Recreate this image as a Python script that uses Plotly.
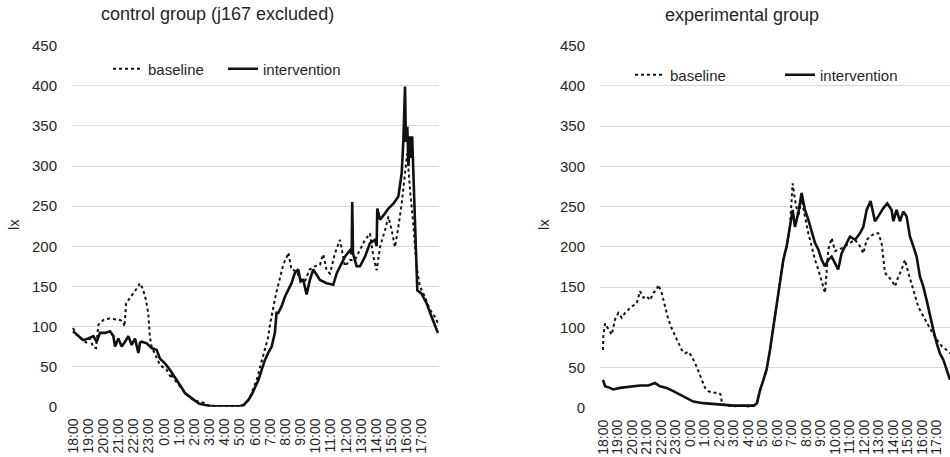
import plotly.graph_objects as go

# hour labels (category axis 18:00 -> 17:00)
hour_labels = ["18:00", "19:00", "20:00", "21:00", "22:00", "23:00", "0:00", "1:00",
               "2:00", "3:00", "4:00", "5:00", "6:00", "7:00", "8:00", "9:00", "10:00",
               "11:00", "12:00", "13:00", "14:00", "15:00", "16:00", "17:00"]
y_ticks = [0, 50, 100, 150, 200, 250, 300, 350, 400, 450]

# ---- control group (hours after 18:00, lx) ----
ctrl_base_t = [0.0, 0.23, 0.56, 0.88, 1.12, 1.34, 1.52, 1.67, 2.0, 2.4, 2.75, 3.1, 3.3, 3.4, 3.5,
               3.75, 4.08, 4.3, 4.42, 4.62, 4.81, 4.96, 5.07, 5.18, 5.5, 5.73, 6.17, 6.5, 6.55,
               6.72, 7.16, 7.49, 7.93, 8.2, 8.6, 9.0, 9.5, 10.0, 10.5, 11.0, 11.3, 11.67, 12.1,
               12.4, 12.65, 12.87, 13.0, 13.2, 13.4, 13.64, 13.86, 14.1, 14.2, 14.4, 14.74,
               14.95, 15.28, 15.6, 15.94, 16.28, 16.5, 16.72, 16.94, 17.27, 17.6, 17.93, 18.26,
               18.59, 18.92, 19.25, 19.58, 19.8, 20.02, 20.24, 20.57, 20.79, 21.01, 21.23,
               21.45, 21.67, 21.89, 22.04, 22.22, 22.43, 22.65, 22.87, 23.2, 23.53, 23.86, 24.06]
ctrl_base_v = [98, 90, 84, 80, 85, 74, 73, 102, 108, 110, 109, 108, 106, 100, 129,
               135, 144, 150, 154, 146, 133, 117, 87, 75, 62, 52, 46, 35, 42,
               33, 23, 15, 8, 7, 5, 1, 0.5, 0.3, 0.5, 0.5, 2, 12, 33,
               54, 71, 87, 104, 125, 142, 160, 177, 187, 192, 171, 169,
               160, 156, 171, 175, 177, 190, 170, 166, 191, 208, 175, 183,
               183, 195, 208, 216, 187, 170, 199, 220, 237, 220, 199,
               224, 253, 291, 316, 270, 229, 175, 150, 137, 121, 112, 104]

ctrl_int_t = [0.0, 0.35, 0.68, 1.01, 1.34, 1.56, 1.78, 2.11, 2.44, 2.66, 2.77, 2.99, 3.21,
              3.43, 3.65, 3.87, 4.09, 4.31, 4.42, 4.53, 4.86, 5.19, 5.51, 5.73, 6.06, 6.39,
              6.72, 7.05, 7.38, 7.71, 8.04, 8.3, 8.7, 9.0, 9.5, 10.0, 10.5, 11.0, 11.23,
              11.56, 11.78, 12.0, 12.22, 12.44, 12.65, 12.87, 13.1, 13.31, 13.42, 13.53,
              13.75, 13.97, 14.19, 14.41, 14.63, 14.85, 15.0, 15.18, 15.4, 15.62, 15.84,
              16.06, 16.28, 16.72, 17.16, 17.38, 17.6, 17.93, 18.26, 18.37, 18.41, 18.46,
              18.7, 18.92, 19.25, 19.58, 19.91, 20.02, 20.06, 20.24, 20.57, 20.79, 21.12,
              21.45, 21.67, 21.78, 21.89, 21.95, 22.04, 22.12, 22.2, 22.29, 22.36, 22.54,
              22.7, 22.98, 23.31, 23.64, 23.97, 24.06]
ctrl_int_v = [94, 88, 83, 85, 88, 81, 92, 92, 94, 88, 75, 85, 75,
              81, 88, 77, 85, 67, 80, 81, 79, 73, 71, 60, 54, 46,
              37, 27, 17, 12, 8, 4, 2, 1, 0.5, 0.3, 0.3, 0.5, 2,
              8, 15, 25, 33, 46, 58, 67, 75, 92, 117, 117,
              125, 137, 146, 154, 167, 171, 156, 158, 140, 158, 171,
              165, 158, 154, 152, 166, 175, 187, 195, 190, 255, 191,
              175, 175, 187, 204, 208, 200, 247, 233, 241, 247, 253,
              262, 291, 332, 399, 330, 349, 300, 337, 310, 337, 224,
              145, 141, 129, 112, 96, 92]

# ---- experimental group ----
exp_base_t = [0.0, 0.02, 0.14, 0.37, 0.6, 0.83, 1.06, 1.29, 1.52, 1.74, 1.97, 2.32, 2.55, 2.78,
              3.01, 3.24, 3.47, 3.7, 3.81, 4.04, 4.27, 4.5, 4.73, 4.96, 5.19, 5.42, 5.65,
              5.88, 6.11, 6.34, 6.57, 6.8, 7.03, 7.26, 7.48, 7.94, 8.1, 8.2, 8.5, 9.0, 9.5,
              10.0, 10.4, 10.6, 10.83, 11.05, 11.27, 11.5, 11.73, 11.96, 12.19, 12.42,
              12.65, 12.88, 13.06, 13.22, 13.45, 13.68, 13.91, 14.14, 14.37, 14.6, 14.83,
              15.06, 15.29, 15.52, 15.75, 15.98, 16.32, 16.66, 17.01, 17.36, 17.7, 17.93,
              18.16, 18.4, 18.73, 18.96, 19.19, 19.3, 19.42, 19.65, 19.88, 20.11, 20.34,
              20.57, 20.8, 21.03, 21.25, 21.48, 21.71, 21.94, 22.29, 22.64, 22.98, 23.32,
              23.67, 23.9]
exp_base_v = [72, 89, 105, 97, 91, 110, 118, 112, 118, 122, 126, 130, 145, 137,
              139, 134, 143, 147, 153, 143, 126, 110, 99, 89, 81, 72, 68,
              70, 64, 56, 46, 35, 25, 21, 19, 19, 17, 5, 3, 2, 3,
              2, 3, 6, 23, 35, 48, 72, 101, 130, 155, 184,
              201, 225, 279, 259, 238, 259, 238, 217, 201, 184, 172,
              159, 143, 197, 211, 195, 197, 201, 205, 209, 201, 192,
              209, 213, 217, 217, 205, 188, 168, 163, 159, 151, 163,
              172, 184, 168, 155, 139, 126, 118, 106, 95, 85, 77,
              72, 68]

exp_int_t = [0.0, 0.14, 0.48, 0.71, 1.17, 1.63, 2.09, 2.55, 3.12, 3.58, 3.93, 4.38, 4.84,
             5.3, 5.76, 6.22, 6.91, 7.6, 8.06, 8.5, 9.0, 9.5, 10.0, 10.4, 10.6, 10.83,
             11.05, 11.27, 11.5, 11.73, 11.96, 12.19, 12.42, 12.65, 12.88, 13.06, 13.22,
             13.45, 13.68, 13.91, 14.14, 14.37, 14.6, 14.83, 15.06, 15.29, 15.52, 15.75,
             15.98, 16.2, 16.43, 16.78, 17.01, 17.36, 17.7, 17.93, 18.16, 18.43, 18.73,
             18.96, 19.3, 19.58, 19.88, 20.0, 20.22, 20.45, 20.68, 20.91, 21.14, 21.37,
             21.6, 21.83, 22.06, 22.29, 22.52, 22.75, 22.98, 23.2, 23.44, 23.67, 23.9]
exp_int_v = [35, 27, 25, 23, 25, 26, 27, 28, 28, 31, 27, 25, 21,
             17, 12, 8, 6, 5, 4, 3, 3, 3, 3, 3, 6, 23,
             35, 48, 72, 101, 130, 155, 184, 201, 225, 246, 225,
             242, 267, 246, 234, 221, 205, 197, 184, 176, 184, 188,
             180, 172, 192, 205, 213, 209, 217, 225, 246, 257, 232,
             238, 248, 254, 246, 232, 246, 232, 244, 238, 213, 201,
             188, 163, 151, 134, 114, 97, 81, 68, 60, 48, 35]

FONT = "Liberation Sans, Arial, sans-serif"
TXT = "#262626"
W, H = 950, 457

fig = go.Figure()
panels = [
    ("x", "y", "legend", "legend2", ctrl_base_t, ctrl_base_v, ctrl_int_t, ctrl_int_v),
    ("x2", "y2", "legend3", "legend4", exp_base_t, exp_base_v, exp_int_t, exp_int_v),
]
for xa, ya, lgb, lgi, bt, bv, it, iv in panels:
    fig.add_trace(go.Scatter(x=bt, y=bv, xaxis=xa, yaxis=ya, mode="lines", name="baseline",
                             legend=lgb, showlegend=True,
                             line=dict(color="#111111", width=2, dash="dot")))
    fig.add_trace(go.Scatter(x=it, y=iv, xaxis=xa, yaxis=ya, mode="lines", name="intervention",
                             legend=lgi, showlegend=True,
                             line=dict(color="#111111", width=2.6)))

def px_x(p):
    return p / W

def px_y(p):
    return 1 - p / H

xcommon = dict(tickmode="array", tickvals=list(range(24)), ticktext=hour_labels,
               tickangle=-90, showgrid=False, zeroline=False, showline=False, ticks="",
               automargin=False,
               tickfont=dict(family=FONT, size=14, color=TXT), ticklabelstandoff=8)
ycommon = dict(range=[0, 450], tickvals=y_ticks, showgrid=True, gridcolor="#d9d9d9",
               gridwidth=1, zeroline=False, showline=False, ticks="", automargin=False,
               tickfont=dict(family=FONT, size=15, color=TXT), ticklabelstandoff=14)

def leg(xp, yp):
    return dict(orientation="h", x=px_x(xp), y=px_y(yp), xanchor="left", yanchor="middle",
                itemwidth=30, font=dict(family=FONT, size=15, color=TXT),
                bgcolor="rgba(0,0,0,0)", visible=True)

fig.update_layout(
    width=W, height=H, margin=dict(l=0, r=0, t=0, b=0, autoexpand=False),
    paper_bgcolor="white", plot_bgcolor="white", showlegend=True,
    xaxis=dict(domain=[px_x(72), px_x(439)], range=[-0.066, 24.13], anchor="y", **xcommon),
    yaxis=dict(domain=[px_y(406.7), px_y(45.7)], anchor="x", **ycommon),
    xaxis2=dict(domain=[px_x(600), 1.0], range=[-0.207, 23.9], anchor="y2", **xcommon),
    yaxis2=dict(domain=[px_y(408), px_y(45.7)], anchor="x2", **ycommon),
    legend=leg(108, 69),
    legend2=leg(223, 69),
    legend3=leg(630, 75),
    legend4=leg(780, 75),
    annotations=[
        dict(text="control group (j167 excluded)", x=px_x(217), y=px_y(14), xref="paper",
             yref="paper", showarrow=False, xanchor="center", yanchor="middle",
             font=dict(family=FONT, size=18, color=TXT)),
        dict(text="experimental group", x=px_x(742), y=px_y(15), xref="paper",
             yref="paper", showarrow=False, xanchor="center", yanchor="middle",
             font=dict(family=FONT, size=18, color=TXT)),
        dict(text="lx", x=px_x(13), y=px_y(225), xref="paper", yref="paper",
             showarrow=False, textangle=-90, xanchor="center", yanchor="middle",
             font=dict(family=FONT, size=15, color=TXT)),
        dict(text="lx", x=px_x(543), y=px_y(225), xref="paper", yref="paper",
             showarrow=False, textangle=-90, xanchor="center", yanchor="middle",
             font=dict(family=FONT, size=15, color=TXT)),
    ],
)

fig.write_html("out.html")
